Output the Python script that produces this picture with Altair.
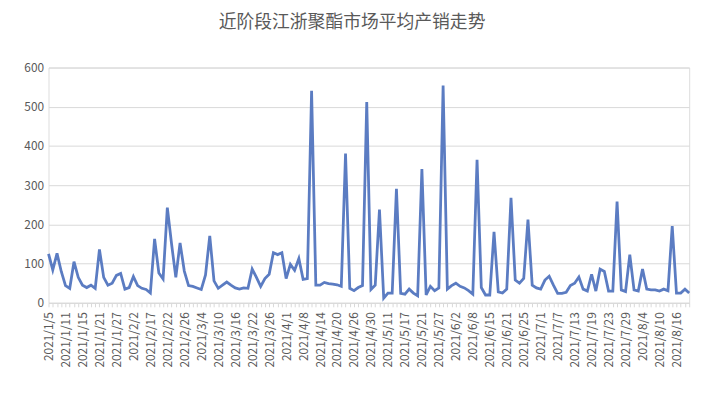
import json
import altair as alt
import pandas as pd

title_text = "近阶段江浙聚酯市场平均产销走势"

tick_labels = [
    "2021/1/5", "2021/1/11", "2021/1/15", "2021/1/21", "2021/1/27", "2021/2/2",
    "2021/2/17", "2021/2/22", "2021/2/26", "2021/3/4", "2021/3/10", "2021/3/16",
    "2021/3/22", "2021/3/26", "2021/4/1", "2021/4/8", "2021/4/14", "2021/4/20",
    "2021/4/26", "2021/4/30", "2021/5/11", "2021/5/17", "2021/5/21", "2021/5/27",
    "2021/6/2", "2021/6/8", "2021/6/15", "2021/6/21", "2021/6/25", "2021/7/1",
    "2021/7/7", "2021/7/13", "2021/7/19", "2021/7/23", "2021/7/29", "2021/8/4",
    "2021/8/10", "2021/8/16",
]

values = [
    125, 84, 126, 80, 44, 37, 105, 65, 45, 39, 45, 37, 136, 65, 45, 50, 70, 75, 35, 39,
    67, 44, 37, 34, 25, 163, 76, 61, 243, 150, 65, 153, 81, 44, 42, 38, 34, 71, 171, 56,
    37, 45, 53, 45, 38, 35, 38, 37, 86, 65, 42, 62, 73, 128, 123, 128, 62, 98, 83, 113,
    60, 62, 541, 45, 45, 52, 49, 48, 46, 42, 381, 37, 31, 39, 44, 512, 34, 45, 238, 12,
    25, 25, 291, 24, 22, 35, 25, 18, 341, 20, 42, 31, 38, 554, 35, 44, 50, 42, 38, 31,
    22, 365, 39, 20, 20, 181, 28, 25, 35, 268, 58, 50, 62, 212, 45, 38, 35, 58, 68, 45,
    24, 24, 27, 44, 50, 66, 35, 30, 73, 30, 86, 80, 30, 30, 258, 33, 29, 123, 33, 30,
    86, 35, 33, 33, 30, 35, 31, 196, 25, 25, 35, 25,
]

y_ticks = [0, 100, 200, 300, 400, 500, 600]

df = pd.DataFrame({"i": list(range(len(values))), "v": values})

label_expr = f"datum.value % 4 == 0 ? {json.dumps(tick_labels)}[datum.value / 4] : ''"

FONT = "Noto Sans CJK SC"
GRAY = "#595959"

chart = (
    alt.Chart(df)
    .mark_line(color="#5b7cc2", strokeWidth=2.8, strokeJoin="miter")
    .encode(
        x=alt.X(
            "i:O",
            scale=alt.Scale(type="point", padding=0),
            axis=alt.Axis(
                title=None,
                labelExpr=label_expr,
                labelAngle=-90,
                labelAlign="right",
                labelBaseline="middle",
                labelOverlap=False,
                labelPadding=5,
                labelFontSize=12,
                labelFont=FONT,
                labelColor=GRAY,
                tickSize=4,
                tickColor="#d9d9d9",
                domainColor="#d9d9d9",
                grid=False,
            ),
        ),
        y=alt.Y(
            "v:Q",
            scale=alt.Scale(domain=[0, 600], nice=False),
            axis=alt.Axis(
                title=None,
                values=y_ticks,
                domain=False,
                ticks=False,
                labelPadding=5,
                labelFontSize=12,
                labelFont=FONT,
                labelColor=GRAY,
                gridColor="#d9d9d9",
                gridWidth=1,
            ),
        ),
    )
    .properties(
        width=648,
        height=238,
        autosize=alt.AutoSizeParams(type="none"),
        padding={"left": 41, "top": 58, "right": 17, "bottom": 92},
        title=alt.TitleParams(
            text=title_text,
            font=FONT,
            fontSize=18,
            fontWeight="normal",
            color=GRAY,
            anchor="middle",
            offset=30,
            dx=-17,
        ),
    )
    .configure_view(stroke=None)
    .configure(background="white")
)

chart.save("out.html", embed_options={"renderer": "svg", "actions": False})
